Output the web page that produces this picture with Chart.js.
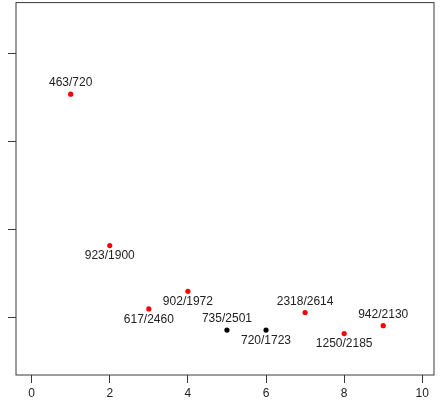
<!DOCTYPE html>
<html>
<head>
<meta charset="utf-8">
<script src="https://cdn.jsdelivr.net/npm/chart.js@4"></script>
<style>
  html, body { margin: 0; padding: 0; background: #fff; }
  #wrap { width: 440px; height: 406px; }
</style>
</head>
<body>
<div id="wrap"><canvas id="scatterChart" width="440" height="406"></canvas></div>
<script>
const xValues = [1, 2, 3, 4, 5, 6, 7, 8, 9];
const yValues = [3.54, 1.82, 1.10, 1.30, 0.86, 0.86, 1.06, 0.82, 0.91];
const pointLabels = ['463/720', '923/1900', '617/2460', '902/1972', '735/2501',
    '720/1723', '2318/2614', '1250/2185', '942/2130'];
const pointColors = ['red', 'red', 'red', 'red', 'black', 'black', 'red', 'red', 'red'];
const labelAbove = [true, false, false, false, true, false, true, false, true];
const xTicks = [0, 2, 4, 6, 8, 10];
const yTicks = [1, 2, 3, 4];

const axisColor = '#3a3a3a';
const fontFamily = '"Liberation Sans", Arial, sans-serif';

// box round the plot area + text next to each point
const boxAndLabels = {
    id: 'boxAndLabels',
    afterDatasetsDraw(chart) {
        const ctx = chart.ctx;
        const a = chart.chartArea;
        ctx.save();
        ctx.strokeStyle = axisColor;
        ctx.lineWidth = 1;
        ctx.strokeRect(a.left, a.top, a.right - a.left, a.bottom - a.top);
        ctx.font = '12px ' + fontFamily;
        ctx.fillStyle = '#222';
        ctx.textAlign = 'center';
        ctx.textBaseline = 'middle';
        const meta = chart.getDatasetMeta(0);
        meta.data.forEach((pt, i) => {
            const dy = labelAbove[i] ? -11 : 10.5;
            ctx.fillText(pointLabels[i], pt.x, pt.y + dy);
        });
        ctx.restore();
    }
};

const data = {
    datasets: [{
        data: xValues.map((x, i) => ({x: x, y: yValues[i]})),
        backgroundColor: pointColors,
        borderColor: pointColors,
        pointRadius: 2.6,
        pointHoverRadius: 2.6,
        borderWidth: 0
    }]
};

const config = {
    type: 'scatter',
    data: data,
    options: {
        responsive: false,
        animation: false,
        events: [],
        layout: { padding: { top: 1, right: 6, left: 0, bottom: 0 } },
        plugins: {
            legend: { display: false },
            tooltip: { enabled: false }
        },
        scales: {
            x: {
                type: 'linear',
                min: -0.4,
                max: 10.3,
                afterBuildTicks: s => { s.ticks = xTicks.map(v => ({value: v})); },
                afterFit: s => { s.height = 31; },
                border: { display: false },
                grid: {
                    drawOnChartArea: false,
                    drawTicks: true,
                    tickLength: 8,
                    tickColor: axisColor
                },
                ticks: {
                    padding: 3,
                    maxRotation: 0,
                    color: '#222',
                    font: { family: fontFamily, size: 12 }
                }
            },
            y: {
                type: 'linear',
                min: 0.35,
                max: 4.58,
                afterBuildTicks: s => { s.ticks = yTicks.map(v => ({value: v})); },
                afterFit: s => { s.width = 16; s.paddingTop = 0; s.paddingBottom = 0; },
                border: { display: false },
                grid: {
                    drawOnChartArea: false,
                    drawTicks: true,
                    tickLength: 8,
                    tickColor: axisColor
                },
                ticks: {
                    display: false
                }
            }
        }
    },
    plugins: [boxAndLabels]
};

const scatterChart = new Chart(
    document.getElementById('scatterChart'),
    config);
</script>
</body>
</html>
